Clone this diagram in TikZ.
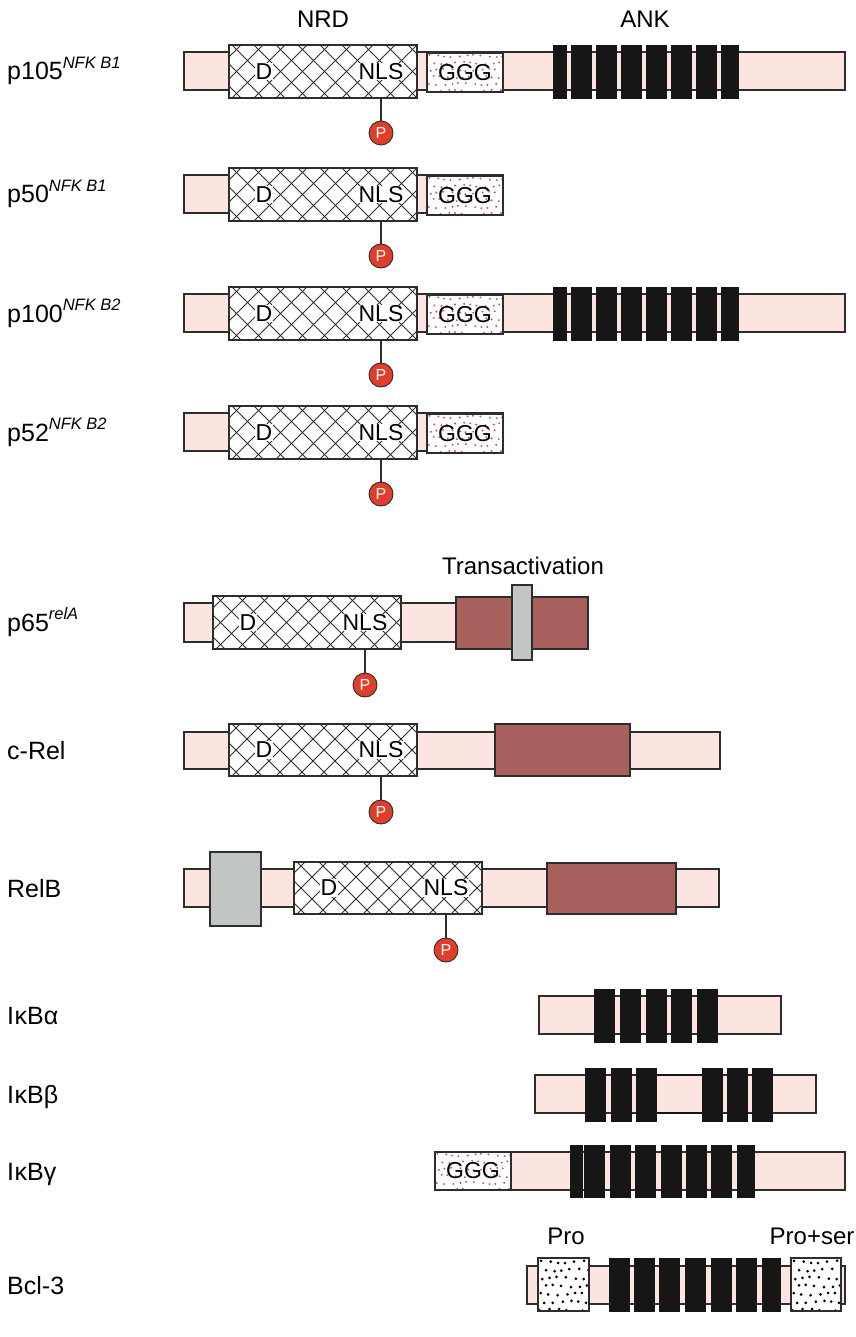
\documentclass[tikz,border=0pt]{standalone}
\usepackage{fontspec}
\setmainfont{Liberation Sans}
\definecolor{pinkbar}{RGB}{252,229,225}
\definecolor{edge}{RGB}{45,45,45}
\definecolor{tbox}{RGB}{168,96,92}
\definecolor{gbox}{RGB}{193,198,195}
\definecolor{pred}{RGB}{222,62,42}
\definecolor{ggdot}{RGB}{210,72,90}
\definecolor{ankc}{RGB}{22,22,22}
\newcommand{\fmain}{\fontsize{23}{27}\selectfont}
\newcommand{\flab}{\fontsize{25}{29}\selectfont}
\newcommand{\ftitle}{\fontsize{24}{28}\selectfont}
\newcommand{\supit}[1]{\raisebox{11.5pt}{\fontsize{16.5}{18}\selectfont\itshape #1}}
% box: name, style, x1, y1, x2, y2, text
\newcommand{\bx}[7]{\node[#2, anchor=north west, minimum width={(#5-(#3))*1pt}, minimum height={(#6-(#4))*1pt}] (#1) at (#3,#4) {#7};}
% NRD region: id, x1, y1, x2, y2, P-centre y
\newcommand{\nrd}[6]{%
  \bx{h#1}{hatch}{#2}{#3}{#4}{#5}{}
  \node[lettr] (d#1) at ([xshift=35pt]h#1.west) {D};
  \node[lettr] (n#1) at ([xshift=-36pt]h#1.east) {NLS};
  \coordinate (q#1) at (0,#6);
  \node[pcirc] (p#1) at (n#1 |- q#1) {P};
  \draw[conn] (p#1) -- (p#1 |- h#1.south);
}
\tikzset{
  base/.style={inner sep=0pt, outer sep=0pt, line width=1.1pt, draw=edge},
  pbar/.style={base, fill=pinkbar},
  hatch/.style={base, fill=white, path picture={
      \foreach \k in {-3,...,9}{
        \draw[edge, line width=0.85pt] ([xshift={\k*22pt}, yshift=3pt]path picture bounding box.north west) -- ++(72pt,-72pt);
        \draw[edge, line width=0.85pt] ([xshift={\k*22pt}, yshift=-3pt]path picture bounding box.south west) -- ++(72pt,72pt);
      }}},
  ggg/.style={base, fill=white, font=\fmain, path picture={
      \foreach \i in {0,...,10}{\foreach \j in {0,...,5}{
        \fill[ggdot] ([xshift={\i*7.4pt+mod(\j,2)*3.7pt+2.5pt+1.4pt*sin(\i*97+\j*53)}, yshift={-\j*7pt-3pt+1.2pt*cos(\i*61+\j*113)}]path picture bounding box.north west) circle[radius=1.05pt];
      }}}},
  prob/.style={base, fill=white, path picture={
      \foreach \i in {0,...,6}{\foreach \j in {0,...,6}{
        \fill[black] ([xshift={\i*8.4pt+mod(\j,2)*4.2pt+3pt+1.3pt*sin(\i*83+\j*47)}, yshift={-\j*8pt-4pt+1.2pt*cos(\i*71+\j*101)}]path picture bounding box.north west) circle[radius=1.5pt];
      }}}},
  tact/.style={base, fill=tbox},
  grayb/.style={base, fill=gbox},
  ankb/.style={inner sep=0pt, outer sep=0pt, fill=ankc, draw=ankc, line width=0.6pt},
  lettr/.style={font=\fmain, fill=white, inner sep=0.7pt},
  pcirc/.style={circle, draw=edge, line width=0.9pt, fill=pred, text=white, font=\fontsize{16}{16}\selectfont, minimum size=24pt, inner sep=0pt},
  conn/.style={draw=edge, line width=1.1pt},
  lab/.style={font=\flab, anchor=base west, inner sep=0pt},
  ttl/.style={font=\ftitle, inner sep=0pt}
}
\begin{document}
\begin{tikzpicture}[x=1pt, y=-1pt]
\useasboundingbox[fill=white] (0,0) rectangle (855,1337);

% titles
\node[ttl] (tnrd) at (323,19) {NRD};
\node[ttl] (tank) at (645,19) {ANK};

% ---- p105
\node[lab] (l1) at (7,80) {p105\supit{NFK B1}};
\bx{b1}{pbar}{184}{52}{845}{90}{}
\nrd{1}{229}{45}{417}{98}{133}
\bx{g1}{ggg}{427}{53}{503}{92}{GGG}
\foreach \a/\b [count=\n] in {553/566,571/591,596/616,621/641,646/666,671/691,696/716,721/738}{\bx{a1\n}{ankb}{\a}{45}{\b}{98}{}}

% ---- p50
\node[lab] (l2) at (7,203) {p50\supit{NFK B1}};
\bx{b2}{pbar}{184}{175}{503}{213}{}
\nrd{2}{229}{168}{417}{221}{256}
\bx{g2}{ggg}{427}{176}{503}{215}{GGG}

% ---- p100
\node[lab] (l3) at (7,322) {p100\supit{NFK B2}};
\bx{b3}{pbar}{184}{294}{845}{332}{}
\nrd{3}{229}{287}{417}{340}{375}
\bx{g3}{ggg}{427}{295}{503}{334}{GGG}
\foreach \a/\b [count=\n] in {553/566,571/591,596/616,621/641,646/666,671/691,696/716,721/738}{\bx{a3\n}{ankb}{\a}{287}{\b}{340}{}}

% ---- p52
\node[lab] (l4) at (7,441) {p52\supit{NFK B2}};
\bx{b4}{pbar}{184}{413}{503}{451}{}
\nrd{4}{229}{406}{417}{459}{494}
\bx{g4}{ggg}{427}{414}{503}{453}{GGG}

% ---- p65
\node[ttl] (ttac) at (523,566) {Transactivation};
\node[lab] (l5) at (7,631) {p65\supit{relA}};
\bx{b5}{pbar}{184}{603}{588}{642}{}
\nrd{5}{213}{596}{401}{649}{685}
\bx{r5}{tact}{456}{597}{588}{649}{}
\bx{s5}{grayb}{512}{585}{532}{660}{}

% ---- c-Rel
\node[lab] (l6) at (7,759) {c-Rel};
\bx{b6}{pbar}{184}{732}{720}{769}{}
\nrd{6}{229}{724}{417}{776}{812}
\bx{r6}{tact}{495}{724}{630}{776}{}

% ---- RelB
\node[lab] (l7) at (7,897) {RelB};
\bx{b7}{pbar}{184}{869}{719}{907}{}
\bx{s7}{grayb}{210}{852}{261}{926}{}
\nrd{7}{294}{862}{482}{914}{950}
\bx{r7}{tact}{547}{863}{676}{914}{}

% ---- IkBa
\node[lab] (l8) at (7,1024) {I\kern0.5ptκBα};
\bx{b8}{pbar}{539}{996}{781}{1034}{}
\foreach \a/\b [count=\n] in {594/614,620/640,646/666,671/691,697/717}{\bx{a8\n}{ankb}{\a}{989}{\b}{1042}{}}

% ---- IkBb
\node[lab] (l9) at (7,1103) {I\kern0.5ptκBβ};
\bx{b9}{pbar}{535}{1075}{816}{1113}{}
\foreach \a/\b [count=\n] in {585/605,611/631,636/656,702/722,727/747,752/772}{\bx{a9\n}{ankb}{\a}{1068}{\b}{1121}{}}
\draw[ankc, line width=2.2pt] (a93.north east |- b9.north) -- (a94.north west |- b9.north);
\draw[ankc, line width=2.2pt] (a93.south east |- b9.south) -- (a94.south west |- b9.south);

% ---- IkBg
\node[lab] (l10) at (7,1180) {I\kern0.5ptκBγ};
\bx{b10}{pbar}{511}{1152}{845}{1190}{}
\bx{g10}{ggg}{435}{1152}{511}{1190}{GGG}
\foreach \a/\b [count=\n] in {570/582,584/604,610/630,635/655,661/681,686/706,711/731,737/754}{\bx{a10\n}{ankb}{\a}{1145}{\b}{1197}{}}

% ---- Bcl-3
\node[ttl] (tpro) at (566,1236) {Pro};
\node[ttl] (tpros) at (812,1236) {Pro+ser};
\node[lab] (l11) at (7,1294) {Bcl-3};
\bx{b11}{pbar}{527}{1266}{845}{1304}{}
\bx{c11}{prob}{538}{1258}{589}{1311}{}
\bx{e11}{prob}{791}{1258}{841}{1311}{}
\foreach \a/\b [count=\n] in {609/629,634/654,659/679,685/705,711/731,736/756,762/780}{\bx{a11\n}{ankb}{\a}{1258}{\b}{1311}{}}
\end{tikzpicture}
\end{document}
